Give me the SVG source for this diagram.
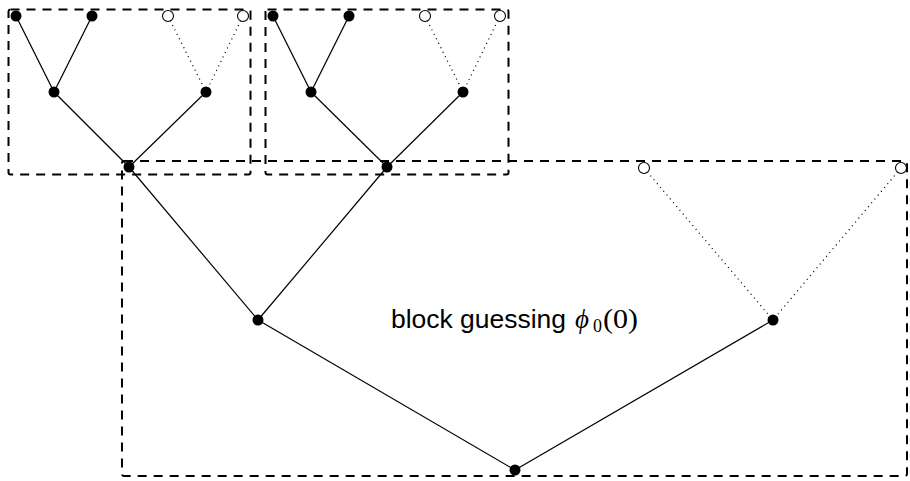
<svg xmlns="http://www.w3.org/2000/svg" width="910" height="481" viewBox="0 0 910 481">
<style>
.box{fill:none;stroke:#000;stroke-width:2;stroke-dasharray:9 7}
.e{stroke:#000;stroke-width:1.2;fill:none}
.d{stroke:#000;stroke-width:1.3;fill:none;stroke-dasharray:1 4}
.f{fill:#000}
.o{fill:#fff;stroke:#000;stroke-width:1.1}
.m{font-family:"Liberation Serif","DejaVu Serif",serif}
</style>
<rect width="910" height="481" fill="#fff"/>
<g id="blocks">
<rect id="block1" class="box" x="8.5" y="9.5" width="242" height="165" rx="2"/>
<rect id="block2" class="box" x="265.5" y="9.5" width="243" height="165" rx="2"/>
<rect id="block3" class="box" x="122" y="161" width="785" height="315" rx="2"/>
</g>
<g id="connectors">
<line class="e" x1="16" y1="16" x2="54" y2="92"/>
<line class="e" x1="92" y1="16" x2="54" y2="92"/>
<line class="d" x1="168" y1="16" x2="206" y2="92"/>
<line class="d" x1="243" y1="16" x2="206" y2="92"/>
<line class="e" x1="54" y1="92" x2="129" y2="167"/>
<line class="e" x1="206" y1="92" x2="129" y2="167"/>
<line class="e" x1="273" y1="16" x2="311" y2="92"/>
<line class="e" x1="349" y1="16" x2="311" y2="92"/>
<line class="d" x1="425" y1="16" x2="463" y2="92"/>
<line class="d" x1="500" y1="16" x2="463" y2="92"/>
<line class="e" x1="311" y1="92" x2="387" y2="167"/>
<line class="e" x1="463" y1="92" x2="387" y2="167"/>
<line class="e" x1="129" y1="167" x2="258" y2="320"/>
<line class="e" x1="387" y1="167" x2="258" y2="320"/>
<line class="d" x1="644" y1="168" x2="773" y2="320"/>
<line class="d" x1="901" y1="168" x2="773" y2="320"/>
<line class="e" x1="258" y1="320" x2="515" y2="470"/>
<line class="e" x1="773" y1="320" x2="515" y2="470"/>
</g>
<g id="n1"><circle class="f" cx="16" cy="16" r="5.5"/></g>
<g id="n2"><circle class="f" cx="92" cy="16" r="5.5"/></g>
<g id="n3"><circle class="o" cx="168" cy="16" r="5.5"/></g>
<g id="n4"><circle class="o" cx="243" cy="16" r="5.5"/></g>
<g id="n5"><circle class="f" cx="54" cy="92" r="5.5"/></g>
<g id="n6"><circle class="f" cx="206" cy="92" r="5.5"/></g>
<g id="n7"><circle class="f" cx="129" cy="167" r="5.5"/></g>
<g id="n8"><circle class="f" cx="273" cy="16" r="5.5"/></g>
<g id="n9"><circle class="f" cx="349" cy="16" r="5.5"/></g>
<g id="n10"><circle class="o" cx="425" cy="16" r="5.5"/></g>
<g id="n11"><circle class="o" cx="500" cy="16" r="5.5"/></g>
<g id="n12"><circle class="f" cx="311" cy="92" r="5.5"/></g>
<g id="n13"><circle class="f" cx="463" cy="92" r="5.5"/></g>
<g id="n14"><circle class="f" cx="387" cy="167" r="5.5"/></g>
<g id="n15"><circle class="o" cx="644" cy="168" r="5.5"/></g>
<g id="n16"><circle class="o" cx="901" cy="168" r="5.5"/></g>
<g id="n17"><circle class="f" cx="258" cy="320" r="5.5"/></g>
<g id="n18"><circle class="f" cx="773" cy="320" r="5.5"/></g>
<g id="n19"><circle class="f" cx="515" cy="470" r="5.5"/></g>
<g id="label">
<text x="391" y="328" font-family="Liberation Sans, sans-serif" font-size="26" textLength="175" lengthAdjust="spacingAndGlyphs">block guessing</text>
<text class="m" x="575" y="328" font-size="27" font-style="italic">ϕ</text>
<text class="m" x="593" y="332" font-size="18">0</text>
<text class="m" x="603" y="328" font-size="28" textLength="35" lengthAdjust="spacingAndGlyphs">(0)</text>
</g>
</svg>
